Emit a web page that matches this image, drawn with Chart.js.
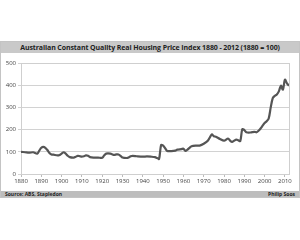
<!DOCTYPE html>
<html>
<head>
<meta charset="utf-8">
<script src="https://cdn.jsdelivr.net/npm/chart.js@4.4.0/dist/chart.umd.min.js"></script>
<style>
  body { margin: 0; background: #fff; width: 300px; height: 240px; overflow: hidden; }
  #box { position: absolute; left: 0; top: 41px; width: 298px; height: 155px; border: 1px solid #c4c4c4; background: #fff; }
  #title { height: 11px; background: #c9c9c9; font: bold 7px "Open Sans", sans-serif; color: #222; text-align: center; line-height: 11px; white-space: nowrap; letter-spacing: -0.1px; }
  #wrap { position: relative; width: 298px; height: 138px; }
  #foot { height: 6px; background: #bdbdbd; font: bold 5px "Open Sans", sans-serif; color: #222; line-height: 6px; padding: 0 4px; }
  #foot span.r { float: right; }
</style>
</head>
<body>
<div id="box">
  <div id="title">Australian Constant Quality Real Housing Price Index 1880 - 2012 (1880 = 100)</div>
  <div id="wrap"><canvas id="housingChart"></canvas></div>
  <div id="foot"><span>Source: ABS, Stapledon</span><span class="r">Philip Soos</span></div>
</div>
<script>
const years = [1880, 1882, 1884, 1886, 1888, 1889, 1890, 1891, 1892, 1893, 1894, 1895, 1896, 1898, 1899,
  1900, 1901, 1902, 1903, 1904, 1906, 1907, 1908, 1909, 1910, 1911, 1912, 1913, 1914, 1916, 1918,
  1920, 1921, 1922, 1924, 1925, 1926, 1927, 1928, 1929, 1930, 1932, 1933, 1934, 1935, 1937,
  1940, 1942, 1944, 1946, 1947, 1948, 1949, 1950, 1951, 1952, 1954, 1956, 1957, 1959,
  1960, 1961, 1962, 1963, 1964, 1966, 1968, 1970, 1972, 1974, 1975, 1976, 1978,
  1980, 1982, 1983, 1984, 1986, 1987, 1988, 1989, 1990, 1991, 1993, 1995, 1996, 1997, 1998, 1999,
  2000, 2001, 2002, 2003, 2004, 2005, 2006, 2007, 2008, 2009, 2010, 2011, 2012];
const priceIndex = [100, 98, 96, 98, 92, 105, 118, 122, 118, 108, 95, 88, 87, 84, 86,
  92, 98, 92, 82, 76, 74, 78, 82, 80, 78, 80, 84, 82, 76, 74, 74,
  73, 84, 92, 92, 88, 86, 88, 88, 82, 74, 72, 74, 80, 82, 80,
  78, 79, 78, 76, 72, 68, 130, 128, 116, 104, 103, 105, 110, 112,
  114, 104, 110, 118, 125, 128, 128, 136, 150, 178, 170, 168, 158,
  150, 160, 150, 145, 155, 152, 148, 202, 198, 188, 187, 190, 188, 195, 205, 218,
  230, 238, 250, 300, 342, 352, 358, 372, 398, 380, 425, 408, 398];
const yTicks = [0, 100, 200, 300, 400, 500];

const points = years.map((y, i) => ({ x: y, y: priceIndex[i] }));

// box around the plot area
const frame = {
  id: 'frame',
  beforeDatasetsDraw(chart) {
    const a = chart.chartArea, c = chart.ctx;
    c.save();
    c.strokeStyle = '#cfcfcf';
    c.lineWidth = 1;
    c.strokeRect(Math.round(a.left) + 0.5, Math.round(a.top) + 0.5, Math.round(a.right - a.left), Math.round(a.bottom - a.top));
    c.restore();
  }
};

new Chart(document.getElementById('housingChart'), {
  type: 'line',
  data: {
    datasets: [{
      data: points,
      borderColor: '#555555',
      borderWidth: 2.2,
      pointRadius: 0,
      tension: 0.3,
      fill: false
    }]
  },
  options: {
    responsive: true,
    maintainAspectRatio: false,
    animation: false,
    layout: { padding: { top: 10, right: 10, bottom: 0, left: 0 } },
    plugins: { legend: { display: false }, tooltip: { enabled: false } },
    scales: {
      x: {
        type: 'linear',
        min: 1880,
        max: 2012,
        afterFit: s => { s.height = 17; },
        afterBuildTicks: s => { s.ticks = []; for (let y = 1880; y <= 2010; y += 10) s.ticks.push({ value: y }); },
        grid: { drawOnChartArea: false, drawTicks: true, tickLength: 3, color: '#bbbbbb' },
        border: { color: '#bbbbbb' },
        ticks: { color: '#444', font: { family: 'Open Sans', size: 6 }, padding: 1, maxRotation: 0, autoSkip: false, callback: v => String(v) }
      },
      y: {
        min: 0,
        max: 500,
        afterFit: s => { s.width = 20; },
        afterBuildTicks: s => { s.ticks = yTicks.map(v => ({ value: v })); },
        grid: { color: '#d2d2d2', tickLength: 3, lineWidth: 1 },
        border: { color: '#bbbbbb' },
        ticks: { color: '#444', font: { family: 'Open Sans', size: 6 }, padding: 2 }
      }
    }
  },
  plugins: [frame]
});
</script>
</body>
</html>
